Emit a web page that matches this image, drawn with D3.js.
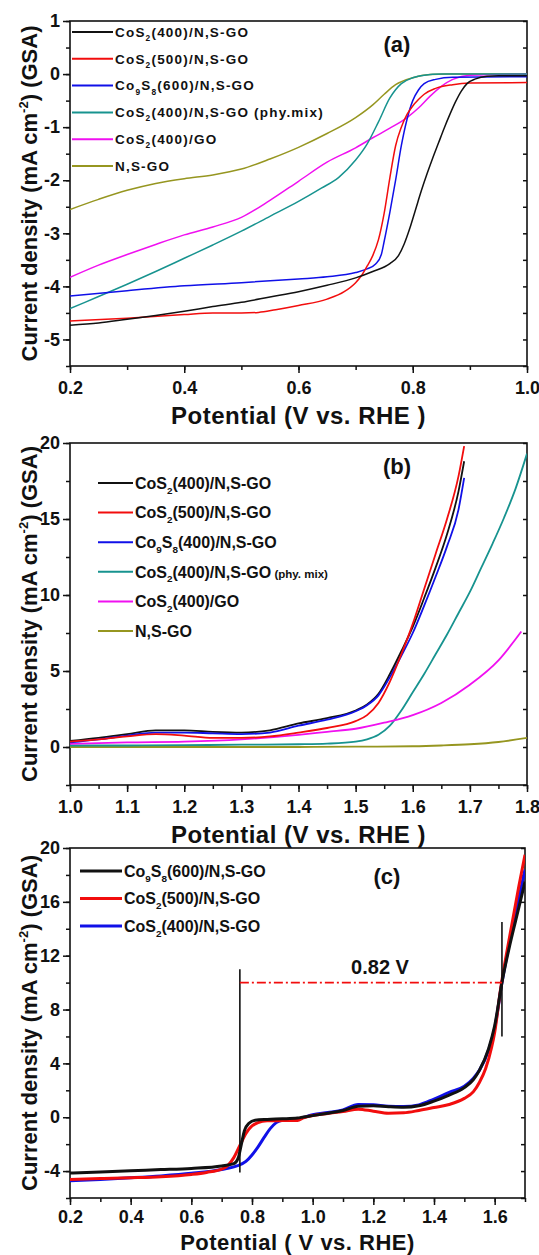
<!DOCTYPE html>
<html>
<head>
<meta charset="utf-8">
<script src="https://cdn.jsdelivr.net/npm/d3@7"></script>
<style>
  body { margin: 0; background: #fff; }
  svg { display: block; }
  text { font-family: 'Liberation Sans', Arial, sans-serif; font-weight: bold; fill: #111; }
</style>
</head>
<body>
<svg id="chart" width="539" height="1255"></svg>
<script>
// ---------- panel (a): ORR polarisation, 0.2 - 1.0 V ----------
const aXTicks = [0.2, 0.4, 0.6, 0.8, 1.0]
const aYTicks = [-5, -4, -3, -2, -1, 0, 1]
const aLabels = ['CoS_2(400)/N,S-GO', 'CoS_2(500)/N,S-GO', 'Co_9S_8(600)/N,S-GO',
                 'CoS_2(400)/N,S-GO (phy.mix)', 'CoS_2(400)/GO', 'N,S-GO']
const aCoS2_400 = [[0.2,-4.73],[0.25,-4.69],[0.3,-4.62],[0.35,-4.55],[0.4,-4.47],[0.45,-4.38],[0.5,-4.3],[0.55,-4.2],[0.6,-4.1],[0.65,-3.98],[0.7,-3.84],[0.73,-3.72],[0.76,-3.57],[0.775,-3.42],[0.785,-3.2],[0.795,-2.9],[0.805,-2.55],[0.815,-2.2],[0.825,-1.88],[0.835,-1.58],[0.845,-1.3],[0.855,-1.02],[0.865,-0.76],[0.875,-0.52],[0.885,-0.32],[0.895,-0.18],[0.91,-0.09],[0.93,-0.04],[0.95,-0.03],[1.0,-0.03]]
const aCoS2_500 = [[0.2,-4.65],[0.3,-4.6],[0.4,-4.53],[0.45,-4.5],[0.5,-4.5],[0.53,-4.49],[0.56,-4.44],[0.6,-4.36],[0.65,-4.24],[0.68,-4.1],[0.7,-3.93],[0.71,-3.8],[0.72,-3.62],[0.73,-3.42],[0.74,-3.12],[0.75,-2.62],[0.76,-1.95],[0.77,-1.35],[0.78,-1.0],[0.79,-0.76],[0.8,-0.6],[0.81,-0.48],[0.82,-0.38],[0.84,-0.27],[0.87,-0.2],[0.9,-0.17],[1.0,-0.16]]
const aCo9S8_600 = [[0.2,-4.18],[0.3,-4.08],[0.4,-3.99],[0.5,-3.93],[0.6,-3.86],[0.65,-3.82],[0.7,-3.74],[0.72,-3.67],[0.735,-3.58],[0.745,-3.4],[0.75,-3.15],[0.76,-2.6],[0.77,-2.0],[0.78,-1.35],[0.79,-0.85],[0.8,-0.5],[0.81,-0.3],[0.82,-0.18],[0.84,-0.1],[0.87,-0.06],[1.0,-0.05]]
const aPhyMix = [[0.2,-4.42],[0.25,-4.19],[0.3,-3.96],[0.35,-3.72],[0.4,-3.47],[0.45,-3.22],[0.5,-2.96],[0.55,-2.68],[0.6,-2.4],[0.64,-2.15],[0.67,-1.95],[0.7,-1.62],[0.72,-1.32],[0.74,-0.9],[0.76,-0.45],[0.78,-0.18],[0.8,-0.07],[0.82,-0.02],[0.85,0],[1.0,0]]
const aCoS2GO = [[0.2,-3.83],[0.25,-3.6],[0.3,-3.4],[0.35,-3.21],[0.4,-3.03],[0.45,-2.88],[0.5,-2.7],[0.55,-2.38],[0.6,-2.02],[0.65,-1.66],[0.7,-1.39],[0.73,-1.2],[0.76,-1.02],[0.79,-0.82],[0.81,-0.64],[0.83,-0.42],[0.85,-0.23],[0.87,-0.1],[0.9,-0.02],[1.0,0]]
const aNSGO = [[0.2,-2.55],[0.25,-2.36],[0.3,-2.19],[0.35,-2.06],[0.4,-1.97],[0.45,-1.9],[0.5,-1.79],[0.55,-1.6],[0.6,-1.38],[0.65,-1.12],[0.7,-0.82],[0.73,-0.58],[0.75,-0.38],[0.77,-0.2],[0.8,-0.07],[0.83,-0.01],[0.86,0],[1.0,0]]

// ---------- panel (b): OER polarisation, 1.0 - 1.8 V ----------
const bXTicks = [1.0, 1.1, 1.2, 1.3, 1.4, 1.5, 1.6, 1.7, 1.8]
const bYTicks = [0, 5, 10, 15, 20]
const bLabels = ['CoS_2(400)/N,S-GO', 'CoS_2(500)/N,S-GO', 'Co_9S_8(400)/N,S-GO',
                 'CoS_2(400)/N,S-GO|(phy. mix)', 'CoS_2(400)/GO', 'N,S-GO']
const bCoS2_400 = [[1.0,0.4],[1.05,0.6],[1.1,0.85],[1.15,1.1],[1.2,1.1],[1.25,1.0],[1.3,0.95],[1.35,1.1],[1.4,1.55],[1.45,1.9],[1.5,2.4],[1.52,2.8],[1.54,3.5],[1.56,4.8],[1.58,6.3],[1.6,7.9],[1.62,9.8],[1.64,11.8],[1.66,14.0],[1.68,16.8],[1.69,18.8]]
const bCoS2_500 = [[1.0,0.35],[1.05,0.5],[1.1,0.7],[1.15,0.85],[1.2,0.75],[1.25,0.6],[1.3,0.6],[1.35,0.7],[1.4,0.95],[1.45,1.25],[1.5,1.7],[1.52,2.1],[1.54,2.9],[1.56,4.3],[1.58,6.1],[1.6,8.1],[1.62,10.4],[1.64,12.7],[1.66,15.0],[1.68,17.8],[1.69,19.8]]
const bCo9S8_400 = [[1.0,0.3],[1.05,0.5],[1.1,0.75],[1.15,0.95],[1.2,0.95],[1.25,0.9],[1.3,0.85],[1.35,0.95],[1.4,1.4],[1.45,1.8],[1.5,2.35],[1.52,2.75],[1.54,3.4],[1.56,4.6],[1.58,6.0],[1.6,7.5],[1.62,9.3],[1.64,11.2],[1.66,13.2],[1.68,15.6],[1.69,17.7]]
const bPhyMix = [[1.0,0.1],[1.1,0.1],[1.2,0.12],[1.3,0.15],[1.4,0.18],[1.45,0.22],[1.5,0.35],[1.52,0.5],[1.54,0.8],[1.56,1.4],[1.58,2.4],[1.6,3.6],[1.62,4.8],[1.64,6.1],[1.66,7.4],[1.68,8.8],[1.7,10.2],[1.72,11.8],[1.74,13.4],[1.76,15.1],[1.78,17.0],[1.8,19.3]]
const bCoS2GO = [[1.0,0.2],[1.1,0.3],[1.2,0.35],[1.3,0.5],[1.4,0.8],[1.45,1.0],[1.5,1.2],[1.55,1.6],[1.6,2.1],[1.65,2.9],[1.7,4.1],[1.75,5.7],[1.79,7.6]]
const bNSGO = [[1.0,0],[1.2,0],[1.4,0],[1.5,0.02],[1.6,0.05],[1.65,0.1],[1.7,0.18],[1.75,0.33],[1.8,0.6]]

// ---------- panel (c): overall ORR + OER window, 0.2 - 1.7 V ----------
const cXTicks = [0.2, 0.4, 0.6, 0.8, 1.0, 1.2, 1.4, 1.6]
const cYTicks = [-4, 0, 4, 8, 12, 16, 20]
const cLabels = ['Co_9S_8(600)/N,S-GO', 'CoS_2(500)/N,S-GO', 'CoS_2(400)/N,S-GO']
const cCo9S8_600 = [[0.2,-4.15],[0.3,-4.06],[0.4,-3.97],[0.5,-3.89],[0.6,-3.8],[0.7,-3.62],[0.74,-3.45],[0.755,-3.0],[0.765,-2.0],[0.775,-1.0],[0.79,-0.45],[0.81,-0.22],[0.85,-0.16],[0.9,-0.12],[0.95,-0.06],[0.97,0.02],[1.0,0.12],[1.05,0.3],[1.1,0.5],[1.15,0.82],[1.2,0.85],[1.25,0.78],[1.3,0.74],[1.35,0.85],[1.4,1.2],[1.45,1.65],[1.5,2.2],[1.53,2.8],[1.55,3.5],[1.58,5.1],[1.6,6.8],[1.624,10],[1.65,12.8],[1.68,15.6],[1.7,17.5]]
const cCoS2_500 = [[0.2,-4.62],[0.3,-4.56],[0.4,-4.5],[0.5,-4.42],[0.6,-4.25],[0.65,-4.1],[0.7,-3.85],[0.72,-3.6],[0.74,-3.0],[0.76,-2.1],[0.78,-1.2],[0.8,-0.65],[0.82,-0.4],[0.85,-0.27],[0.9,-0.25],[0.95,-0.24],[0.97,-0.05],[1.0,0.12],[1.05,0.28],[1.1,0.42],[1.15,0.6],[1.2,0.45],[1.25,0.3],[1.3,0.33],[1.35,0.5],[1.4,0.72],[1.45,0.95],[1.5,1.4],[1.53,1.9],[1.55,2.6],[1.57,3.6],[1.59,5.2],[1.6,6.3],[1.62,9.6],[1.65,13.5],[1.68,17.2],[1.7,19.5]]
const cCoS2_400 = [[0.2,-4.72],[0.3,-4.62],[0.4,-4.5],[0.5,-4.36],[0.6,-4.17],[0.7,-3.88],[0.75,-3.62],[0.78,-3.28],[0.8,-2.8],[0.82,-2.2],[0.84,-1.5],[0.86,-0.85],[0.88,-0.4],[0.9,-0.22],[0.95,-0.15],[0.965,-0.05],[1.0,0.18],[1.05,0.35],[1.1,0.55],[1.15,0.95],[1.2,0.92],[1.25,0.82],[1.3,0.8],[1.35,0.92],[1.4,1.35],[1.45,1.85],[1.5,2.3],[1.53,2.9],[1.55,3.5],[1.58,5.0],[1.6,6.6],[1.624,10],[1.65,13.1],[1.68,16.3],[1.7,18.4]]
// potential gap markers: ORR at 0.76 V, OER at 1.624 V (j = 10), gap 0.82 V
const cMarkX = [0.76, 1.624]
const cMarkSpan = [[11, -4.1], [14.5, 6]]
const cGapJ = 10
const cGapText = '0.82 V'

const colors = { black: '#111111', red: '#f20d0d', blue: '#1010e8', teal: '#17938f', magenta: '#f010f0', olive: '#969620' }
const fmt1 = d3.format('.1f')

const svg = d3.select('#chart')

// "CoS_2" -> CoS with subscript 2; text after "|" is the small note
function richText(sel, str, size) {
    const [main, note] = str.split('|')
    const re = /_(\d)|([^_]+)/g
    let m, shifted = false
    while ((m = re.exec(main)) !== null) {
        if (m[1]) {
            sel.append('tspan').text(m[1]).attr('font-size', size * 0.62).attr('dy', shifted ? 0 : size * 0.3)
            shifted = true
        } else {
            sel.append('tspan').text(m[2]).attr('dy', shifted ? -size * 0.3 : 0)
            shifted = false
        }
    }
    if (note) sel.append('tspan').text(' ' + note).attr('font-size', size * 0.72).attr('dy', shifted ? -size * 0.3 : 0)
}

function yTitle(g, x, cy) {
    const t = g.append('text').attr('transform', `translate(${x},${cy}) rotate(-90)`)
        .attr('text-anchor', 'middle').attr('font-size', 22)
    t.append('tspan').text('Current density (mA cm')
    t.append('tspan').text('-2').attr('font-size', 13).attr('dy', -9)
    t.append('tspan').text(') (GSA)').attr('dy', 9)
}

function drawPanel(p) {
    const g = svg.append('g')
    const x = d3.scaleLinear().domain(p.xDomain).range([p.left, p.right])
    const y = d3.scaleLinear().domain(p.yDomain).range([p.bottom, p.top])
    const clipId = 'clip-' + p.tag.text.replace(/\W/g, '')

    g.append('clipPath').attr('id', clipId).append('rect')
        .attr('x', p.left).attr('y', p.top).attr('width', p.right - p.left).attr('height', p.bottom - p.top)

    // minor + major ticks, outward on bottom/left, inward on right
    const xMinor = d3.range(p.xDomain[0], p.xDomain[1] + 1e-9, p.xMinorStep)
    const yMinor = d3.range(p.yDomain[0], p.yDomain[1] + 1e-9, p.yMinorStep)
    const style = sel => sel.attr('color', '#111').attr('font-size', 18)
        .call(s => s.select('.domain').remove())
        .call(s => s.selectAll('line').attr('stroke-width', 1.5))

    g.append('g').attr('transform', `translate(0,${p.bottom})`)
        .call(d3.axisBottom(x).tickValues(xMinor).tickSize(4).tickFormat('')).call(style)
    g.append('g').attr('transform', `translate(0,${p.bottom})`)
        .call(d3.axisBottom(x).tickValues(p.xTicks).tickSize(7).tickPadding(p.xPad).tickFormat(fmt1)).call(style)
    g.append('g').attr('transform', `translate(${p.left},0)`)
        .call(d3.axisLeft(y).tickValues(yMinor).tickSize(4).tickFormat('')).call(style)
    g.append('g').attr('transform', `translate(${p.left},0)`)
        .call(d3.axisLeft(y).tickValues(p.yTicks).tickSize(7).tickPadding(3).tickFormat(d => String(d))).call(style)
    g.append('g').attr('transform', `translate(${p.right},0)`)
        .call(d3.axisLeft(y).tickValues(yMinor).tickSize(4).tickFormat('')).call(style)

    g.append('rect').attr('x', p.left).attr('y', p.top)
        .attr('width', p.right - p.left).attr('height', p.bottom - p.top)
        .attr('fill', 'none').attr('stroke', '#111').attr('stroke-width', 1.6)

    const line = d3.line().x(d => x(d[0])).y(d => y(d[1])).curve(d3.curveMonotoneX)
    const curves = g.append('g').attr('clip-path', `url(#${clipId})`)
    p.drawOrder.forEach(i => {
        const s = p.series[i]
        curves.append('path').datum(s.data).attr('d', line)
            .attr('fill', 'none').attr('stroke', s.color).attr('stroke-width', p.lineWidth)
            .attr('stroke-linejoin', 'round')
    })

    // legend
    const lg = p.legend
    p.series.forEach((s, i) => {
        const ly = lg.y0 + i * lg.dy
        g.append('line').attr('x1', lg.x0).attr('x2', lg.x1).attr('y1', ly).attr('y2', ly)
            .attr('stroke', s.color).attr('stroke-width', lg.width)
        const t = g.append('text').attr('x', lg.x1 + 2).attr('y', ly + lg.size * 0.36)
            .attr('font-size', lg.size).attr('letter-spacing', lg.spacing)
        richText(t, s.label, lg.size)
    })

    g.append('text').attr('x', p.tag.x).attr('y', p.tag.y).attr('text-anchor', 'middle')
        .attr('font-size', 22).text(p.tag.text)
    g.append('text').attr('x', (p.left + p.right) / 2).attr('y', p.xTitleY).attr('text-anchor', 'middle')
        .attr('font-size', p.xTitleSize).attr('letter-spacing', 0.5).text(p.xTitle)
    yTitle(g, 37, (p.top + p.bottom) / 2)

    return { g, x, y }
}

drawPanel({
    left: 70, right: 527, top: 21, bottom: 366,
    xDomain: [0.2, 1.0], yDomain: [-5.5, 1], xTicks: aXTicks, yTicks: aYTicks,
    xMinorStep: 0.1, yMinorStep: 0.5, lineWidth: 1.5, xPad: 8,
    series: [
        { data: aCoS2_400, color: colors.black, label: aLabels[0] },
        { data: aCoS2_500, color: colors.red, label: aLabels[1] },
        { data: aCo9S8_600, color: colors.blue, label: aLabels[2] },
        { data: aPhyMix, color: colors.teal, label: aLabels[3] },
        { data: aCoS2GO, color: colors.magenta, label: aLabels[4] },
        { data: aNSGO, color: colors.olive, label: aLabels[5] }
    ],
    drawOrder: [5, 4, 3, 2, 1, 0],
    legend: { x0: 72, x1: 113, y0: 32, dy: 26.8, size: 13.5, spacing: 1.2, width: 2 },
    tag: { x: 397, y: 52, text: '(a)' },
    xTitle: 'Potential (V vs. RHE )', xTitleY: 424, xTitleSize: 24
})

drawPanel({
    left: 70, right: 527, top: 443, bottom: 785,
    xDomain: [1.0, 1.8], yDomain: [-2.5, 20], xTicks: bXTicks, yTicks: bYTicks,
    xMinorStep: 0.05, yMinorStep: 2.5, lineWidth: 1.8, xPad: 8,
    series: [
        { data: bCoS2_400, color: colors.black, label: bLabels[0] },
        { data: bCoS2_500, color: colors.red, label: bLabels[1] },
        { data: bCo9S8_400, color: colors.blue, label: bLabels[2] },
        { data: bPhyMix, color: colors.teal, label: bLabels[3] },
        { data: bCoS2GO, color: colors.magenta, label: bLabels[4] },
        { data: bNSGO, color: colors.olive, label: bLabels[5] }
    ],
    drawOrder: [5, 3, 4, 0, 2, 1],
    legend: { x0: 98, x1: 133, y0: 483, dy: 29.6, size: 16, spacing: 0, width: 2 },
    tag: { x: 397, y: 474, text: '(b)' },
    xTitle: 'Potential (V vs. RHE )', xTitleY: 843, xTitleSize: 24
})

const pc = drawPanel({
    left: 70, right: 525, top: 848, bottom: 1198,
    xDomain: [0.2, 1.7], yDomain: [-6, 20], xTicks: cXTicks, yTicks: cYTicks,
    xMinorStep: 0.1, yMinorStep: 2, lineWidth: 3, xPad: 5,
    series: [
        { data: cCo9S8_600, color: colors.black, label: cLabels[0] },
        { data: cCoS2_500, color: colors.red, label: cLabels[1] },
        { data: cCoS2_400, color: colors.blue, label: cLabels[2] }
    ],
    drawOrder: [2, 1, 0],
    legend: { x0: 80, x1: 122, y0: 871, dy: 27.5, size: 16, spacing: 0, width: 3 },
    tag: { x: 387, y: 884, text: '(c)' },
    xTitle: 'Potential ( V vs. RHE)', xTitleY: 1250, xTitleSize: 22
})

// gap annotation in panel (c)
cMarkX.forEach((v, i) => {
    pc.g.append('line').attr('x1', pc.x(v)).attr('x2', pc.x(v))
        .attr('y1', pc.y(cMarkSpan[i][0])).attr('y2', pc.y(cMarkSpan[i][1]))
        .attr('stroke', '#111').attr('stroke-width', 1.6)
})
pc.g.append('line').attr('x1', pc.x(cMarkX[0])).attr('x2', pc.x(cMarkX[1]))
    .attr('y1', pc.y(cGapJ)).attr('y2', pc.y(cGapJ))
    .attr('stroke', colors.red).attr('stroke-width', 1.6).attr('stroke-dasharray', '9,3,2,3')
pc.g.append('text').attr('x', pc.x((cMarkX[0] + cMarkX[1]) / 2 + 0.03)).attr('y', pc.y(cGapJ) - 9)
    .attr('text-anchor', 'middle').attr('font-size', 20).text(cGapText)
</script>
</body>
</html>
